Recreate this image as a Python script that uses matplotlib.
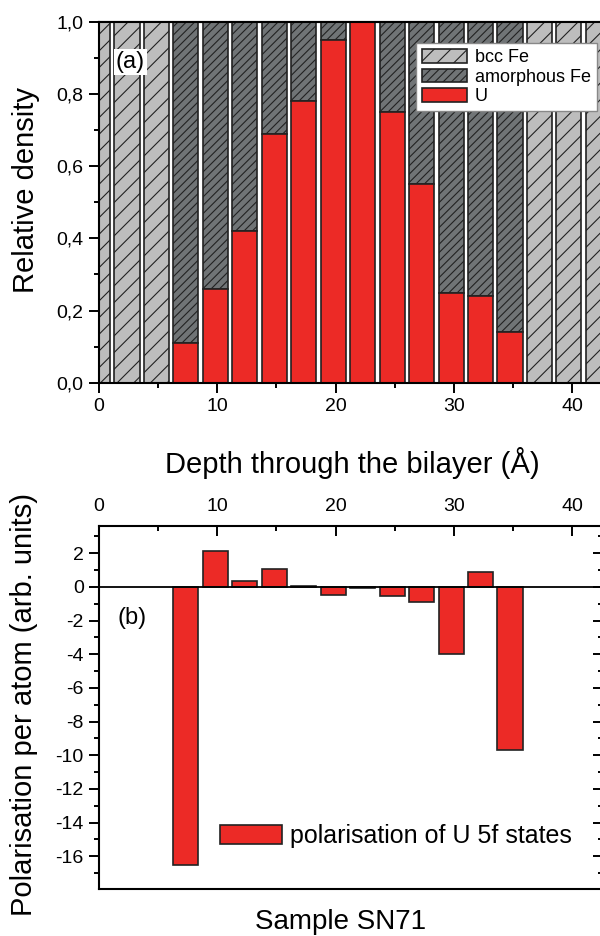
import matplotlib
matplotlib.use("Agg")
import matplotlib.pyplot as plt
from matplotlib.ticker import MultipleLocator, FuncFormatter, NullFormatter

plt.rcParams["font.family"] = ["Liberation Sans", "DejaVu Sans"]
plt.rcParams["axes.unicode_minus"] = False
plt.rcParams["hatch.linewidth"] = 0.8

# Layer positions through the bilayer (Å)
depth_bcc = [-0.10, 2.37, 4.86, 37.23, 39.72, 42.21]
depth_mix = [7.35, 9.84, 12.33, 14.82, 17.31, 19.80, 22.29, 24.78, 27.27, 29.76, 32.25, 34.74]

# Relative densities per layer
bcc_fe = [1.0, 1.0, 1.0, 1.0, 1.0, 1.0]
u_density = [0.11, 0.26, 0.42, 0.69, 0.78, 0.95, 1.00, 0.75, 0.55, 0.25, 0.24, 0.14]
amorph_fe = [0.89, 0.74, 0.58, 0.31, 0.22, 0.05, 0.00, 0.25, 0.45, 0.75, 0.76, 0.86]

# U 5f polarisation per atom (arb. units)
u5f_pol = [-16.5, 2.15, 0.33, 1.08, 0.05, -0.46, -0.08, -0.56, -0.92, -3.97, 0.88, -9.70]

RED = "#ec2a26"
LIGHT = "#bdbdbd"
DARK = "#707476"
BAR_W = 2.12
LW_SP = 1.5

fig = plt.figure(figsize=(6, 9.36), dpi=100)
ax1 = fig.add_axes([0.165, 0.591, 0.84, 0.386])
ax2 = fig.add_axes([0.165, 0.050, 0.84, 0.388])

# ---- (a) density profile ----
ax1.bar(depth_bcc, bcc_fe, width=BAR_W, color=LIGHT, edgecolor="#222222",
        hatch="//", linewidth=1.2, label="bcc Fe", zorder=2)
ax1.bar(depth_mix, amorph_fe, width=BAR_W, bottom=u_density, color=DARK,
        edgecolor="#222222", hatch="////", linewidth=1.2, label="amorphous Fe", zorder=2)
ax1.bar(depth_mix, u_density, width=BAR_W, color=RED, edgecolor="#222222",
        linewidth=1.2, label="U", zorder=2)

ax1.set_xlim(0, 42.6)
ax1.set_ylim(0, 1.0)
ax1.xaxis.set_major_locator(MultipleLocator(10))
ax1.xaxis.set_minor_locator(MultipleLocator(5))
ax1.yaxis.set_major_locator(MultipleLocator(0.2))
ax1.yaxis.set_minor_locator(MultipleLocator(0.1))
ax1.yaxis.set_major_formatter(FuncFormatter(lambda v, p: f"{v:.1f}".replace(".", ",")))
ax1.tick_params(which="major", direction="out", length=7, width=1.4, labelsize=14, pad=4)
ax1.tick_params(which="minor", direction="out", length=3.5, width=1.4)
for s in ax1.spines.values():
    s.set_linewidth(LW_SP)

top1 = ax1.secondary_xaxis("top")
top1.xaxis.set_major_locator(MultipleLocator(10))
top1.xaxis.set_minor_locator(MultipleLocator(5))
top1.tick_params(which="major", direction="in", length=7, width=1.4, labeltop=False)
top1.tick_params(which="minor", direction="in", length=3.5, width=1.4)
top1.xaxis.set_major_formatter(NullFormatter())
top1.spines["top"].set_linewidth(LW_SP)

right1 = ax1.secondary_yaxis("right")
right1.yaxis.set_major_locator(MultipleLocator(0.2))
right1.yaxis.set_minor_locator(MultipleLocator(0.1))
right1.tick_params(which="major", direction="in", length=7, width=1.4, labelright=False)
right1.tick_params(which="minor", direction="in", length=3.5, width=1.4)
right1.yaxis.set_major_formatter(NullFormatter())

ax1.text(0.062, 0.888, "(a)", transform=ax1.transAxes, fontsize=17,
         ha="center", va="center", zorder=5,
         bbox=dict(facecolor="white", edgecolor="none", pad=1.5))

leg1 = ax1.legend(loc="upper right", bbox_to_anchor=(0.988, 0.941), fontsize=13,
                  frameon=True, fancybox=False, edgecolor="#888888", framealpha=1,
                  borderaxespad=0, borderpad=0.35, handlelength=2.5, handleheight=0.8,
                  handletextpad=0.4, labelspacing=0.12)
leg1.get_frame().set_linewidth(1.0)
leg1.set_zorder(6)

fig.text(0.043, 0.797, "Relative density", rotation=90, ha="center", va="center",
         fontsize=21)
fig.text(0.588, 0.4947, "Depth through the bilayer (Å)", ha="center", va="baseline",
         fontsize=21)

# ---- (b) U 5f polarisation ----
ax2.bar(depth_mix, u5f_pol, width=BAR_W, color=RED, edgecolor="#222222",
        linewidth=1.2, label="polarisation of U 5f states", zorder=2)
ax2.axhline(0, color="black", linewidth=1.3, zorder=3)

ax2.set_xlim(0, 42.6)
ax2.set_ylim(-17.96, 3.62)
ax2.xaxis.tick_top()
ax2.xaxis.set_label_position("top")
ax2.xaxis.set_major_locator(MultipleLocator(10))
ax2.xaxis.set_minor_locator(MultipleLocator(5))
ax2.yaxis.set_major_locator(MultipleLocator(2))
ax2.yaxis.set_minor_locator(MultipleLocator(1))
ax2.tick_params(axis="x", which="major", direction="in", length=7, width=1.4,
                labelsize=14, pad=8)
ax2.tick_params(axis="x", which="minor", direction="in", length=3.5, width=1.4)
ax2.tick_params(axis="y", which="major", direction="out", length=7, width=1.4,
                labelsize=14, pad=4)
ax2.tick_params(axis="y", which="minor", direction="out", length=3.5, width=1.4)
for s in ax2.spines.values():
    s.set_linewidth(LW_SP)

right2 = ax2.secondary_yaxis("right")
right2.yaxis.set_major_locator(MultipleLocator(2))
right2.yaxis.set_minor_locator(MultipleLocator(1))
right2.tick_params(which="major", direction="in", length=7, width=1.4, labelright=False)
right2.tick_params(which="minor", direction="in", length=3.5, width=1.4)
right2.yaxis.set_major_formatter(NullFormatter())

ax2.text(0.065, 0.747, "(b)", transform=ax2.transAxes, fontsize=17,
         ha="center", va="center")

ax2.legend(loc="center left", bbox_to_anchor=(0.24, 0.146), fontsize=18,
           frameon=False, borderaxespad=0, borderpad=0, handlelength=2.5,
           handleheight=0.75, handletextpad=0.3)

fig.text(0.04, 0.247, "Polarisation per atom (arb. units)", rotation=90,
         ha="center", va="center", fontsize=21)
fig.text(0.5675, 0.0075, "Sample SN71", ha="center", va="baseline", fontsize=20)

fig.savefig("out.png", dpi=100)
